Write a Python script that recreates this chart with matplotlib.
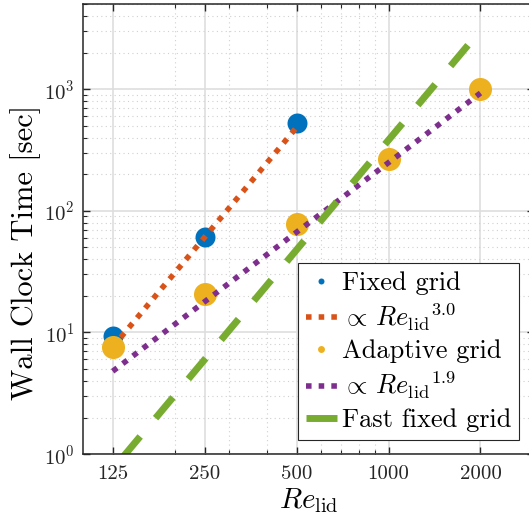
import matplotlib
matplotlib.use('Agg')
import matplotlib.pyplot as plt
from matplotlib.ticker import LogLocator, NullFormatter, FixedLocator, FixedFormatter

plt.rcParams['font.family'] = 'cmr10'
plt.rcParams['mathtext.fontset'] = 'cm'
plt.rcParams['axes.formatter.use_mathtext'] = True

# data
re_fixed = [125, 250, 500]
t_fixed = [9.4, 60.5, 525]
re_adapt = [125, 250, 500, 1000, 2000]
t_adapt = [7.6, 20.8, 78, 268, 1000]
# fit lines (end points)
re_fit3 = [125, 500]
t_fit3 = [7.6, 485]
re_fit19 = [125, 2000]
t_fit19 = [4.8, 930]
re_fast = [125, 2000]
t_fast = [0.75, 3050]

xticks = [125, 250, 500, 1000, 2000]

blue = '#0072BD'
orange = '#D95319'
yellow = '#EDB120'
purple = '#7E2F8E'
green = '#77AC30'

fig = plt.figure(figsize=(5.29, 5.22), dpi=100)
ax = fig.add_axes([0.157, 0.130, 0.853, 0.862])

ax.plot(re_fixed, t_fixed, 'o', color=blue, ms=14.4, mew=0, label='Fixed grid')
ax.plot(re_fit3, t_fit3, color=orange, lw=4, dashes=(1, 1.28), dash_capstyle='butt',
        label=r'$\propto\, {Re_{\mathrm{lid}}}^{3.0}$')
ax.plot(re_adapt, t_adapt, 'o', color=yellow, ms=16.6, mew=0, label='Adaptive grid')
ax.plot(re_fit19, t_fit19, color=purple, lw=4, dashes=(1, 1.28), dash_capstyle='butt',
        label=r'$\propto\, {Re_{\mathrm{lid}}}^{1.9}$')
ax.plot(re_fast, t_fast, color=green, lw=5, ls=(5.08, (3.9, 3.45)), dash_capstyle='butt',
        solid_capstyle='butt', label='Fast fixed grid')

ax.set_xscale('log')
ax.set_yscale('log')
ax.set_xlim(100, 3000)
ax.set_ylim(1, 5000)

ax.xaxis.set_major_locator(FixedLocator(xticks))
ax.xaxis.set_major_formatter(FixedFormatter([str(v) for v in xticks]))
ax.xaxis.set_minor_locator(LogLocator(base=10, subs=range(2, 10)))
ax.xaxis.set_minor_formatter(NullFormatter())
ax.yaxis.set_major_locator(LogLocator(base=10))
ax.yaxis.set_minor_locator(LogLocator(base=10, subs=range(2, 10)))
ax.yaxis.set_minor_formatter(NullFormatter())

ax.grid(True, which='major', color='#dedede', lw=1.2, ls='-')
ax.grid(True, which='minor', color='#d0d0d0', lw=0.8, ls=(0, (1, 3)))
ax.set_axisbelow(True)

ax.tick_params(which='both', direction='in', top=True, right=True, colors='#262626',
               labelsize=15)
ax.tick_params(which='major', length=5, width=1)
ax.tick_params(which='minor', length=3, width=0.8)
ax.tick_params(axis='x', pad=8)
ax.tick_params(axis='y', pad=6)
for s in ax.spines.values():
    s.set_color('#262626')
    s.set_linewidth(1.1)

ax.set_xlabel(r'$Re_{\mathrm{lid}}$', fontsize=21, labelpad=2)
ax.set_ylabel('Wall Clock Time [sec]', fontsize=22)
ax.yaxis.set_label_coords(-0.093, 0.449)

leg = ax.legend(loc='lower right', bbox_to_anchor=(519 / 529, 82 / 522),
                bbox_transform=fig.transFigure, borderaxespad=0, fontsize=19,
                markerscale=0.3, handlelength=1.17, handletextpad=0.19,
                labelspacing=0.26, borderpad=0.3, fancybox=False, framealpha=1,
                edgecolor='#262626')
leg.get_frame().set_linewidth(0.8)
leg.get_lines()[4].set_linestyle('-')
leg.get_lines()[4].set_solid_capstyle('butt')

fig.savefig('out.png', dpi=100)
